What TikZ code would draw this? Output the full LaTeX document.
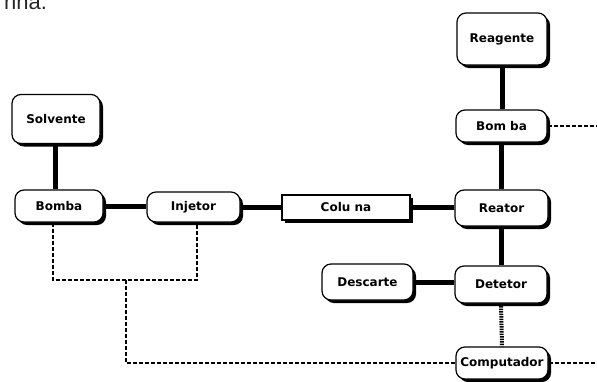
\documentclass[tikz,border=0pt]{standalone}
\usepackage{fontspec}
\setmainfont{DejaVu Sans}
\newfontfamily\arialf{Liberation Sans}
\usetikzlibrary{shadows,backgrounds}
\begin{document}
\begin{tikzpicture}[x=1pt,y=-1pt,
  box/.style={draw, line width=1.2pt, rounded corners=9pt, fill=white,
    font=\bfseries\fontsize{12}{14}\selectfont, inner sep=0pt,
    drop shadow={shadow xshift=3pt, shadow yshift=-3pt, opacity=1, fill=black}},
  sqbox/.style={box, rounded corners=0pt},
  pipe/.style={line width=5pt},
  sigline/.style={line width=1.4pt, dash pattern=on 4pt off 2pt},
  dense/.style={line width=4pt, dash pattern=on 1.5pt off 1pt}]
\useasboundingbox (0,0) rectangle (597,381);
\clip (0,0) rectangle (597,381);
\node[anchor=base west, font=\arialf\fontsize{22}{22}\selectfont, text=black!85, inner sep=0pt] (frag) at (4,9) {nna.};

\node[box, minimum width=88pt, minimum height=49pt] (sol) at (56,119) {Solvente};
\node[box, minimum width=88pt, minimum height=32pt] (bomL) at (59,206) {Bomba};
\node[box, minimum width=93pt, minimum height=30pt] (inj) at (193.5,207) {Injetor};
\node[sqbox, minimum width=128pt, minimum height=25pt] (col) at (346,207.5) {Colu na};
\node[box, minimum width=93pt, minimum height=36pt] (rea) at (501.5,208) {Reator};
\node[box, minimum width=90pt, minimum height=52pt] (reag) at (502,39) {Reagente};
\node[box, minimum width=91pt, minimum height=32pt] (bomR) at (501.5,126) {Bom ba};
\node[box, minimum width=92pt, minimum height=37pt] (det) at (501,284.5) {Detetor};
\node[box, minimum width=91pt, minimum height=36pt] (des) at (367.5,282) {Descarte};
\node[box, minimum width=92pt, minimum height=32pt] (comp) at (502,363) {Computador};

\coordinate (j1) at (126,280);
\coordinate (eR) at (597,126);

\begin{scope}[on background layer]
  \draw[pipe] ([xshift=-1pt]sol.south) -- ([xshift=-1pt]sol.south |- bomL.north);
  \draw[pipe] (bomL.east) -- (bomL.east -| inj.west);
  \draw[pipe] (inj.east) -- (inj.east -| col.west);
  \draw[pipe] (col.east) -- (col.east -| rea.west);
  \draw[pipe] (reag.south) -- (reag.south |- bomR.north);
  \draw[pipe] (bomR.south) -- (bomR.south |- rea.north);
  \draw[pipe] (rea.south) -- (rea.south |- det.north);
  \draw[pipe] (des.east) -- (des.east -| det.west);
  \draw[sigline] ([xshift=-6pt]bomL.south) |- ([xshift=3.5pt]inj.south |- j1) -- ([xshift=3.5pt]inj.south);
  \draw[sigline] (j1) |- (comp.west);
  \draw[sigline] (bomR.east) -- (eR);
  \draw[sigline] (comp.east) -- (comp.east -| eR);
  \draw[dense] (det.south) -- (comp.north);
\end{scope}
\end{tikzpicture}
\end{document}
